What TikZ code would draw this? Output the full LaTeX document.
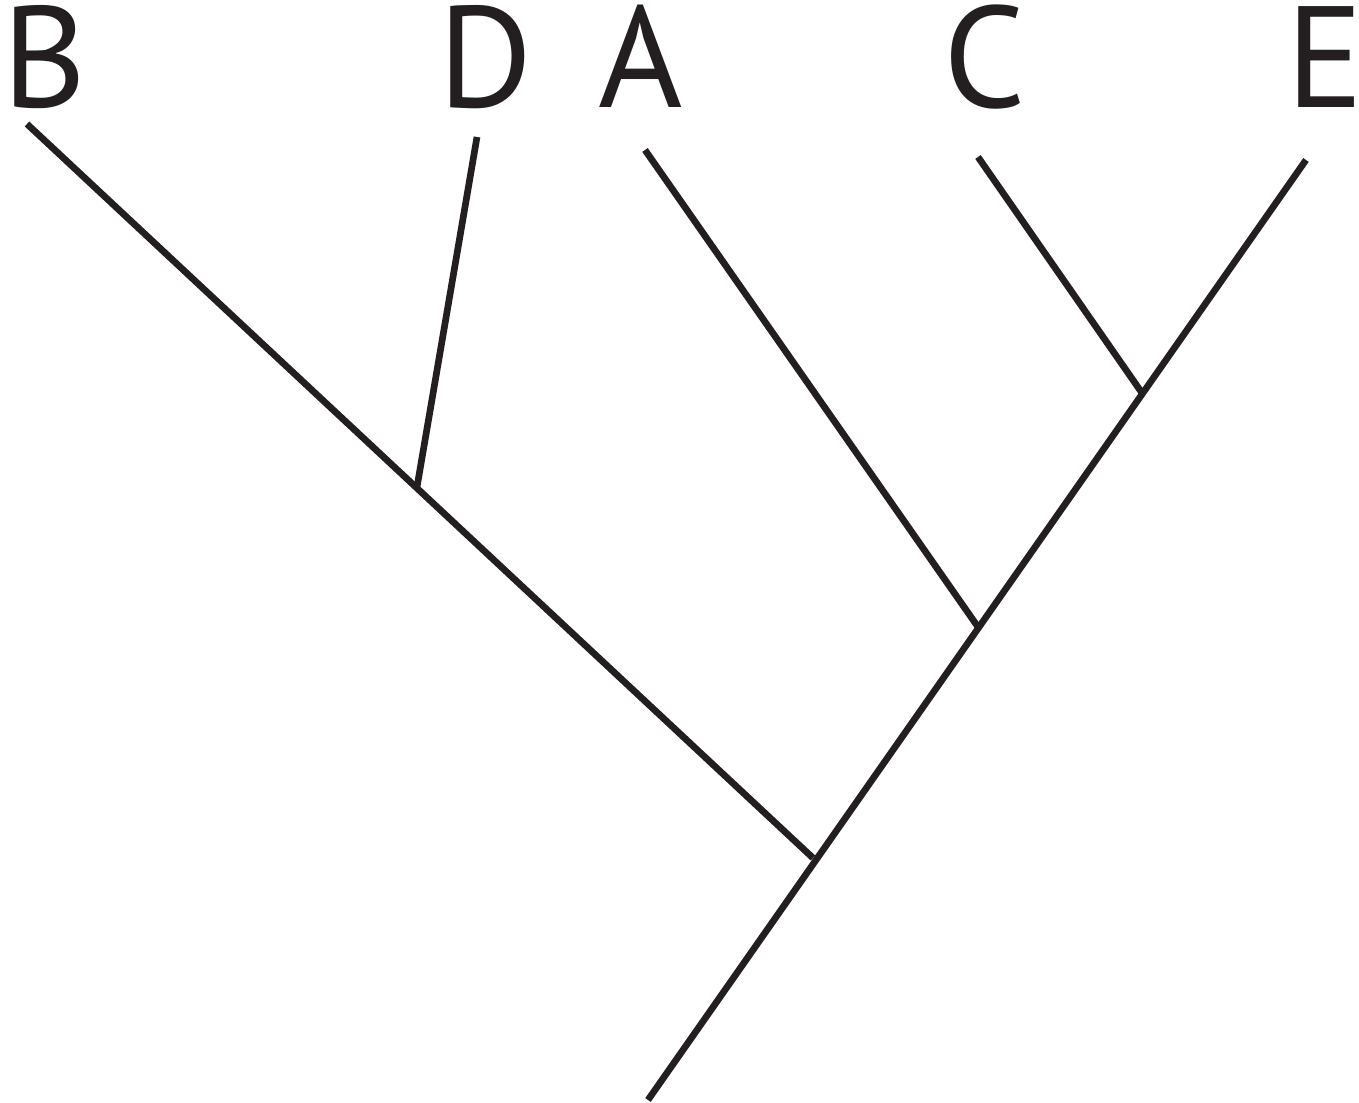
\documentclass[tikz,border=0pt]{standalone}
\usepackage{fontspec}
\setsansfont{PT Sans}
\usepackage{xcolor}
\definecolor{treeink}{RGB}{35,31,32}
\tikzset{
  branch/.style={draw=treeink, line width=1.9pt},
  taxon/.style={font=\sffamily\fontsize{41}{41}\selectfont, text=treeink, inner sep=0pt, anchor=base}
}
\begin{document}
\begin{tikzpicture}[x = 0.01cm, y = 0.01cm]
  \useasboundingbox (0,0) rectangle (1359,1103);
  % tips of the tree
  \coordinate (root) at (648,3);
  \coordinate (tipB) at (27,979);
  \coordinate (tipD) at (477,966);
  \coordinate (tipA) at (645,953);
  \coordinate (tipC) at (978,946);
  \coordinate (tipE) at (1306,943);
  % inner nodes
  \coordinate (nBD) at (417,616);
  \coordinate (nRoot) at (813,245);
  \coordinate (nA) at (978,476);
  \coordinate (nCE) at (1142,710);

  % labels
  \node[taxon] (labB) at (45,995) {B};
  \node[taxon] (labD) at (486,995) {D};
  \node[taxon] (labA) at (641,995) {A};
  \node[taxon] (labC) at (985,995) {C};
  \node[taxon] (labE) at (1325,995) {E};

  % main stem
  \draw[branch] (root) -- (tipE);
  % side branches
  \draw[branch] (tipB) -- (nRoot);
  \draw[branch] (nBD) -- (tipD);
  \draw[branch] (nA) -- (tipA);
  \draw[branch] (nCE) -- (tipC);
\end{tikzpicture}
\end{document}
